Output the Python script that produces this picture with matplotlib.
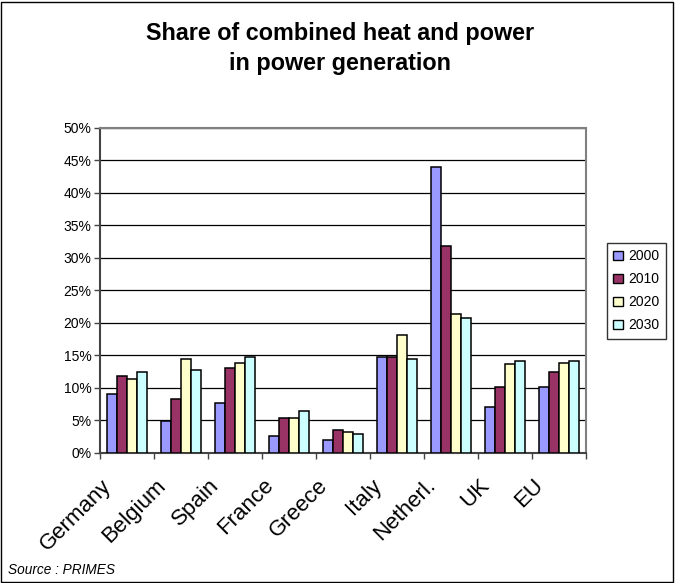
import numpy as np
import matplotlib
matplotlib.use("Agg")
import matplotlib.pyplot as plt
from matplotlib.patches import Rectangle
from matplotlib.transforms import ScaledTranslation
from matplotlib.ticker import FuncFormatter

plt.rcParams['font.family'] = ['Liberation Sans', 'DejaVu Sans']

countries = ['Germany', 'Belgium', 'Spain', 'France', 'Greece',
             'Italy', 'Netherl.', 'UK', 'EU']
years = ['2000', '2010', '2020', '2030']
colors = ['#9999FF', '#993366', '#FFFFCC', '#CCFFFF']

# shares in percent, per year
share_2000 = [9.1, 4.9, 7.7, 2.6, 2.0, 14.7, 44.0, 7.1, 10.2]
share_2010 = [11.9, 8.3, 13.1, 5.4, 3.5, 14.7, 31.8, 10.2, 12.5]
share_2020 = [11.4, 14.5, 13.9, 5.4, 3.2, 18.1, 21.3, 13.6, 13.9]
share_2030 = [12.5, 12.8, 14.8, 6.5, 2.9, 14.5, 20.7, 14.2, 14.2]
series = [share_2000, share_2010, share_2020, share_2030]

fig = plt.figure(figsize=(6.76, 5.83), dpi=100)
ax = fig.add_axes([100/676, 1-453/583, 486/676, 325.5/583])

x = np.arange(len(countries))
w = 0.181
for k, (vals, col, yr) in enumerate(zip(series, colors, years)):
    ax.bar(x + (k - 1.5) * w, vals, w, color=col, edgecolor='black',
           linewidth=1.1, label=yr, zorder=3)

ax.set_xlim(-0.5, len(countries) - 0.5)
ax.set_ylim(0, 50)
ax.set_yticks(np.arange(0, 51, 5))
ax.yaxis.set_major_formatter(FuncFormatter(lambda v, p: '%d%%' % v))
ax.grid(axis='y', color='black', linewidth=0.9, zorder=0)
ax.set_xticks(np.arange(len(countries) + 1) - 0.5)
ax.set_xticklabels([])
ax.tick_params(axis='x', direction='out', length=4, width=1, color='#444444')
ax.tick_params(axis='y', direction='out', length=4, width=1, color='#444444',
               labelsize=10, pad=2)

for side in ['top', 'right']:
    ax.spines[side].set_color('#808080')
    ax.spines[side].set_linewidth(1.5)
for side in ['left', 'bottom']:
    ax.spines[side].set_color('#444444')
    ax.spines[side].set_linewidth(1.5)

# rotated category names
off = ScaledTranslation(-26/100, -22/100, fig.dpi_scale_trans)
for i, name in enumerate(countries):
    ax.text(i, 0, name, transform=ax.get_xaxis_transform() + off,
            rotation=45, ha='right', va='top', rotation_mode='anchor',
            fontsize=16)

fig.text(340/676, 1-48.5/583, 'Share of combined heat and power\nin power generation',
         ha='center', va='center', fontsize=16.8, fontweight='bold',
         linespacing=1.38)

fig.text(8/676, 1-570/583, 'Source : PRIMES', ha='left', va='center',
         fontsize=9.8, style='italic')

leg = fig.legend(loc='upper left', bbox_to_anchor=(607/676, 1-243/583),
                 fancybox=False, edgecolor='black', fontsize=10,
                 handlelength=0.7, handleheight=0.7, handletextpad=0.4,
                 labelspacing=0.65, borderpad=0.45, borderaxespad=0)
leg.get_frame().set_linewidth(1)
for h in leg.legend_handles:
    h.set_linewidth(1)

fig.patches.append(Rectangle((0.001, 0.002), 0.995, 0.995, transform=fig.transFigure,
                             fill=False, edgecolor='black', linewidth=1))

fig.savefig('out.png', dpi=100)
